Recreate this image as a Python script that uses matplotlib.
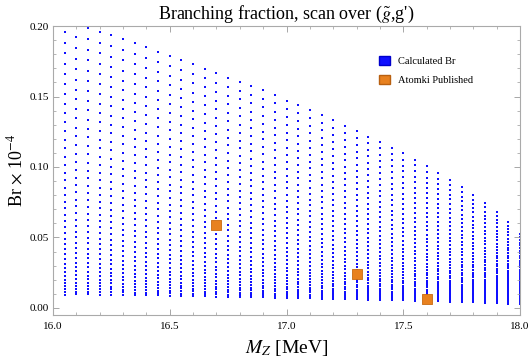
import numpy as np
import matplotlib
matplotlib.use('Agg')
import matplotlib.pyplot as plt
from matplotlib.patches import Patch
from matplotlib.ticker import MultipleLocator, FormatStrFormatter

matplotlib.rcParams['font.family'] = ['Liberation Serif', 'DejaVu Serif']
matplotlib.rcParams['mathtext.fontset'] = 'stix'

# Scan columns: Z mass (MeV) and the highest visible Br in each column
mz = np.round(np.arange(16.0, 18.0001, 0.05), 2)
col_top = [0.199, 0.196, 0.200, 0.1988, 0.196, 0.1934, 0.1906, 0.1877, 0.1849, 0.1819,
           0.1787, 0.1757, 0.1728, 0.1698, 0.1665, 0.1634, 0.1606, 0.1575, 0.1544, 0.1511,
           0.1468, 0.1438, 0.1403, 0.1367, 0.1330, 0.1292, 0.1256, 0.1216, 0.1178, 0.1136,
           0.1096, 0.1053, 0.1004, 0.0956, 0.0909, 0.0855, 0.0800, 0.0742, 0.0678, 0.0607,
           0.0524]
# coupling scan grid (relative to the top value of each column), Br ~ g^2
g_rel = np.arange(11, 51) / 50.0

# Atomki published points
atomki_m = [16.7, 17.3, 17.6]
atomki_br = [0.059, 0.024, 0.006]

xs, ys = [], []
for m, top in zip(mz, col_top):
    for g in g_rel:
        xs.append(m)
        ys.append(top * g ** 2)

fig = plt.figure(figsize=(5.29, 3.62), dpi=100)
ax = fig.add_axes([0.1002, 0.130, 0.8828, 0.798])

ax.scatter(xs, ys, s=1.6, marker='s', color='#1010ff', linewidths=0)
ax.scatter(atomki_m, atomki_br, s=58, marker='s', color='#e8811f',
           edgecolors='#c86a10', linewidths=0.6, zorder=3)

ax.set_xlim(16.0, 18.0)
ax.set_ylim(-0.005, 0.2)
ax.xaxis.set_major_locator(MultipleLocator(0.5))
ax.xaxis.set_minor_locator(MultipleLocator(0.1))
ax.yaxis.set_major_locator(MultipleLocator(0.05))
ax.yaxis.set_minor_locator(MultipleLocator(0.01))
ax.xaxis.set_major_formatter(FormatStrFormatter('%.1f'))
ax.yaxis.set_major_formatter(FormatStrFormatter('%.2f'))
ax.tick_params(which='both', direction='in', top=True, right=True,
               color='#999999', labelsize=8)
ax.tick_params(axis='x', pad=5)
ax.tick_params(axis='y', pad=3)
ax.tick_params(which='major', length=4, width=0.6)
ax.tick_params(which='minor', length=2, width=0.5)
for s in ax.spines.values():
    s.set_color('#aaaaaa')
    s.set_linewidth(0.8)

ax.set_title("Branching fraction, scan over ($\\tilde{g}$,g')", fontsize=13, pad=5)
ax.set_xlabel('$M_Z$ [MeV]', fontsize=14, labelpad=5)
ax.set_ylabel('Br $\\times$ 10$^{-4}$', fontsize=13)
ax.yaxis.set_label_coords(-0.058, 0.5)

handles = [Patch(facecolor='#1010ff', edgecolor='#0000cc', label='Calculated Br'),
           Patch(facecolor='#e8811f', edgecolor='#b86010', label='Atomki Published')]
ax.legend(handles=handles, loc='upper right', bbox_to_anchor=(0.91, 0.915),
          frameon=False, fontsize=7.5, handlelength=1.05, handleheight=1.05,
          handletextpad=0.7, labelspacing=0.8, borderpad=0)

plt.savefig('out.png', dpi=100)
